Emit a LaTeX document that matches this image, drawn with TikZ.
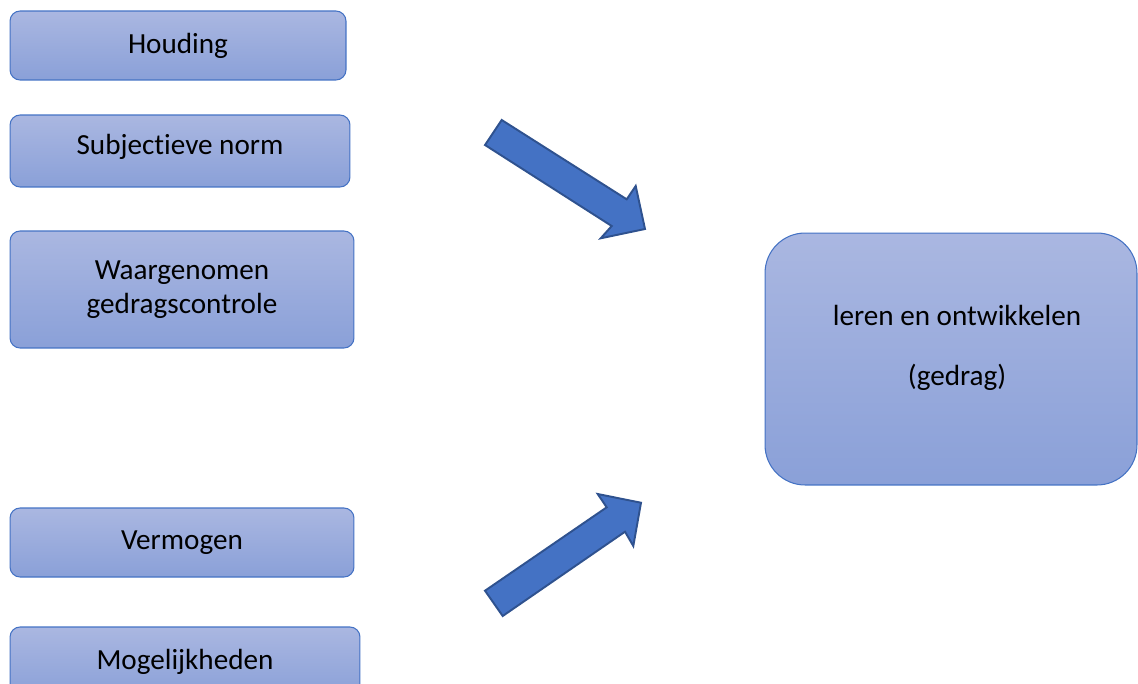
\documentclass[tikz,border=0pt]{standalone}
\usepackage{fontspec}
\setmainfont{Carlito}[Ligatures=NoCommon]
\definecolor{boxtop}{RGB}{170,183,225}
\definecolor{boxbot}{RGB}{138,160,216}
\definecolor{boxline}{RGB}{68,114,196}
\definecolor{arrfill}{RGB}{68,114,196}
\definecolor{arrline}{RGB}{47,82,143}
\begin{document}
\begin{tikzpicture}[x=0.02cm,y=-0.02cm,
  box/.style={draw=boxline, line width=0.6pt, rounded corners=0.2cm,
    top color=boxtop, bottom color=boxbot, inner sep=0pt, align=center,
    font=\fontsize{16.6}{19.5}\selectfont},
  bigbox/.style={box, rounded corners=0.8cm},
  label/.style={align=center, font=\fontsize{16.6}{19.5}\selectfont, inner sep=0pt},
  blockarrow/.style={fill=arrfill, draw=arrline, line width=1.1pt, line join=miter}]
\useasboundingbox (0,0) rectangle (1138,683);
\clip (0,0) rectangle (1138,683);
\node[box, minimum width=6.72cm, minimum height=1.38cm] (houding) at (178,45.5) {Houding};
\node[box, minimum width=6.8cm, minimum height=1.44cm] (norm) at (180,151) {};
\node[label] (normtext) at (180,147) {Subjectieve norm};
\node[box, minimum width=6.88cm, minimum height=2.34cm] (controle) at (182,289.5) {Waargenomen\\gedragscontrole};
\node[box, minimum width=6.88cm, minimum height=1.38cm] (vermogen) at (182,542.5) {Vermogen};
\node[box, minimum width=7cm, minimum height=1.4cm] (mogelijk) at (185,662) {Mogelijkheden};
\node[bigbox, minimum width=7.44cm, minimum height=5.04cm] (gedrag) at (951,359) {};
\node[label] (gedragtext) at (957,348) {leren en ontwikkelen\\[0.52cm](gedrag)};
% block arrows
\draw[blockarrow] (501.7,120) -- (626.7,199.3) -- (635.7,186) -- (645,229)
  -- (600.7,238.3) -- (611.7,226) -- (485,145) -- cycle;
\draw[blockarrow] (485,590.7) -- (606.7,507.3) -- (597.7,494) -- (641,502.7)
  -- (633.3,546) -- (625,531.7) -- (502.7,616) -- cycle;
\end{tikzpicture}
\end{document}
